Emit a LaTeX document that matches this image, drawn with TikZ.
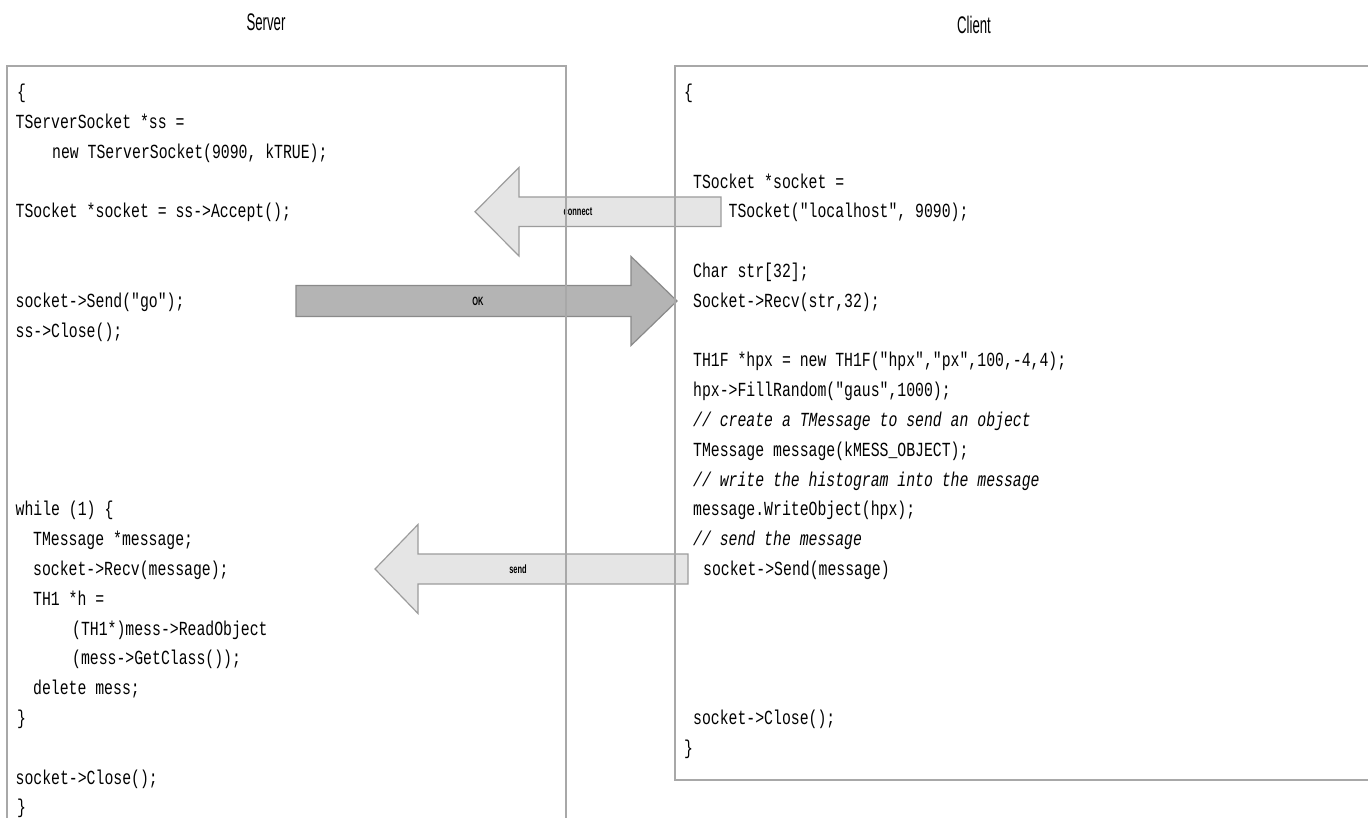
\documentclass[tikz,border=0pt]{standalone}
\usepackage{fontspec}
\newfontfamily\codefont{Liberation Mono}[FakeStretch=0.74]
\newfontfamily\titlefont{Liberation Sans}[FakeStretch=0.55]
\newfontfamily\labelfont{Liberation Sans}[FakeStretch=0.62]
\definecolor{boxgray}{HTML}{A8A8A8}
\definecolor{lightfill}{HTML}{E5E5E5}
\definecolor{lightedge}{HTML}{9C9C9C}
\definecolor{darkfill}{HTML}{B4B4B4}
\definecolor{darkedge}{HTML}{8A8A8A}
\newcommand\codeln[4]{\node[code] (#1) at (#2,{96.5+29.8*#3}) {#4};}
\tikzset{
  code/.style={anchor=mid west, inner sep=0pt, font=\codefont\fontsize{20}{21}\selectfont},
  codecomment/.style={code, font=\codefont\itshape\fontsize{20}{21}\selectfont},
  titletext/.style={inner sep=0pt, font=\titlefont\fontsize{24}{26}\selectfont},
  arrowlabel/.style={inner sep=0pt, font=\labelfont\bfseries\fontsize{12}{13}\selectfont},
  boxline/.style={draw=boxgray, line width=1.3pt},
  lightarrow/.style={fill=lightfill, draw=lightedge, line width=1.2pt, line join=miter},
  darkarrow/.style={fill=darkfill, draw=darkedge, line width=1.2pt, line join=miter}
}
\begin{document}
\begin{tikzpicture}[x=1pt,y=-1pt]
\useasboundingbox (0,0) rectangle (1368,818);
\fill[white] (0,0) rectangle (1368,818);

% titles
\node[titletext] (server) at (266,22) {Server};
\node[titletext] (client) at (974,25) {Client};

% server code
\codeln{s0}{17}{0}{\{}
\codeln{s1}{15.5}{1}{TServerSocket *ss =}
\codeln{s2}{52}{2}{new TServerSocket(9090, kTRUE);}
\codeln{s4}{15.5}{4}{TSocket *socket = ss->Accept();}
\codeln{s7}{15.5}{7}{socket->Send("go");}
\codeln{s8}{15.5}{8}{ss->Close();}
\codeln{s14}{15.5}{14}{while (1) \{}
\codeln{s15}{33}{15}{TMessage *message;}
\codeln{s16}{33}{16}{socket->Recv(message);}
\codeln{s17}{33}{17}{TH1 *h =}
\codeln{s18}{72}{18}{(TH1*)mess->ReadObject}
\codeln{s19}{72}{19}{(mess->GetClass());}
\codeln{s20}{33}{20}{delete mess;}
\codeln{s21}{17}{21}{\}}
\codeln{s23}{15.5}{23}{socket->Close();}
\codeln{s24}{17}{24}{\}}

% client code
\codeln{c0}{684}{0}{\{}
\codeln{c3}{693}{3}{TSocket *socket =}
\codeln{c4}{693}{4}{new TSocket("localhost", 9090);}
\codeln{c6}{693}{6}{Char str[32];}
\codeln{c7}{693}{7}{Socket->Recv(str,32);}
\codeln{c9}{693}{9}{TH1F *hpx = new TH1F("hpx","px",100,-4,4);}
\codeln{c10}{693}{10}{hpx->FillRandom("gaus",1000);}
\node[codecomment] (c11) at (693,{96.5+29.8*11}) {// create a TMessage to send an object};
\codeln{c12}{693}{12}{TMessage message(kMESS\_OBJECT);}
\node[codecomment] (c13) at (693,{96.5+29.8*13}) {// write the histogram into the message};
\codeln{c14}{693}{14}{message.WriteObject(hpx);}
\node[codecomment] (c15) at (693,{96.5+29.8*15}) {// send the message};
\codeln{c16}{703}{16}{socket->Send(message)}
\codeln{c21}{693}{21}{socket->Close();}
\codeln{c22}{684}{22}{\}}

% arrows
\draw[lightarrow] (475,211.7) -- (519,167.5) -- (519,197) -- (721,197) -- (721,226.5) -- (519,226.5) -- (519,256) -- cycle;
\node[arrowlabel] (connect) at (578,211.7) {connect};

\draw[darkarrow] (296,285.5) -- (631,285.5) -- (631,256.5) -- (677,301) -- (631,345.5) -- (631,316.5) -- (296,316.5) -- cycle;
\node[arrowlabel] (ok) at (478,301) {OK};

\draw[lightarrow] (375,569) -- (418,524.5) -- (418,554) -- (688,554) -- (688,584) -- (418,584) -- (418,613.5) -- cycle;
\node[arrowlabel] (send) at (518,569) {send};

% boxes
\draw[boxline] (7,820) -- (7,66) -- (566,66) -- (566,820);
\draw[boxline] (1370,66) -- (675,66) -- (675,780) -- (1370,780);
\end{tikzpicture}
\end{document}
